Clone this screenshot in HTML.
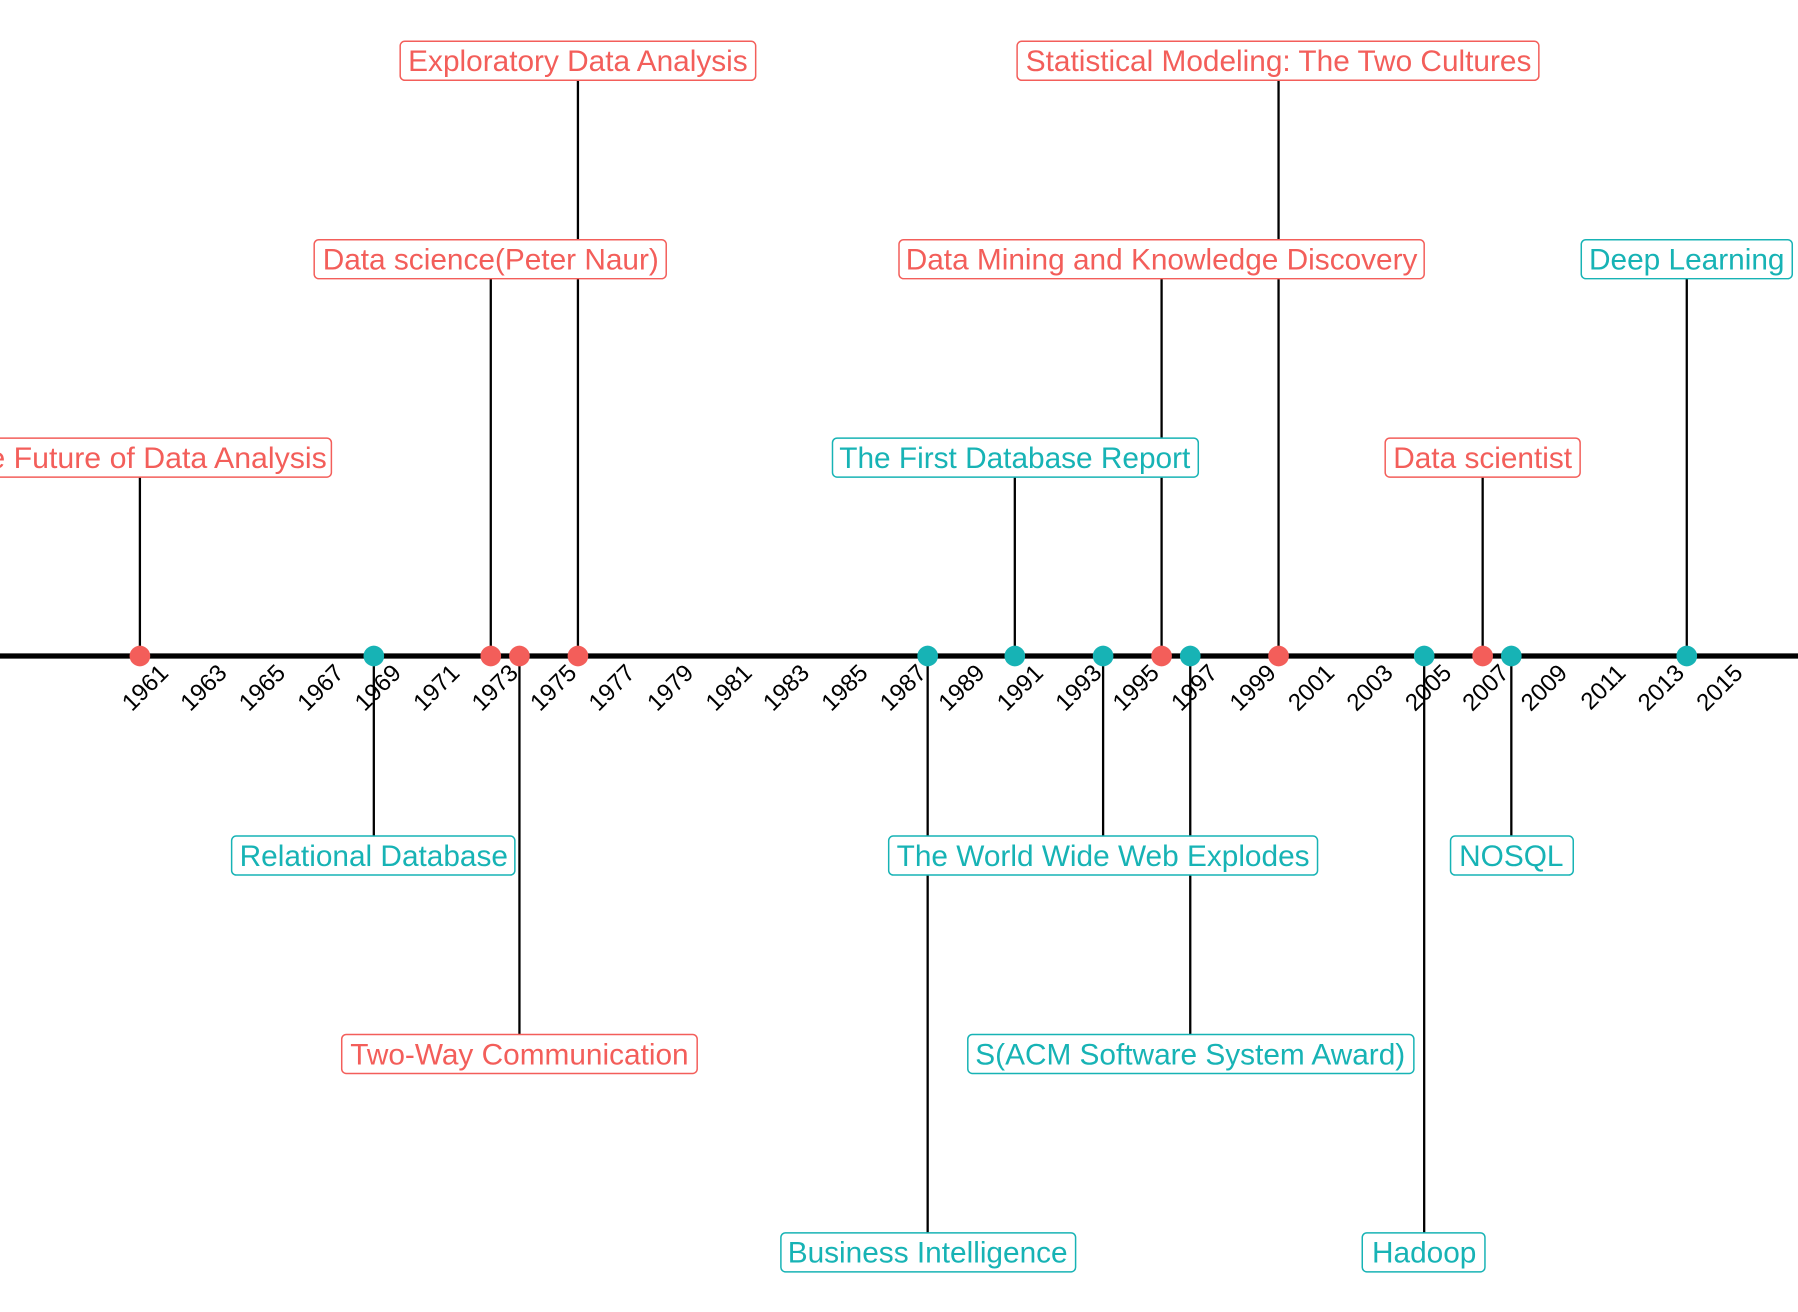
<!DOCTYPE html>
<html><head><meta charset="utf-8"><style>
html,body{margin:0;padding:0;background:#fff;}
svg{display:block;}
text{font-family:"Liberation Sans",sans-serif;}
</style></head><body>
<svg width="1798" height="1312" viewBox="0 0 1568 1144" preserveAspectRatio="none" xmlns="http://www.w3.org/2000/svg">
<g stroke="#000" stroke-width="2">
<line x1="122" y1="572" x2="122" y2="399"/>
<line x1="428" y1="572" x2="428" y2="226"/>
<line x1="453" y1="572" x2="453" y2="919"/>
<line x1="504" y1="572" x2="504" y2="53"/>
<line x1="1013" y1="572" x2="1013" y2="226"/>
<line x1="1115" y1="572" x2="1115" y2="53"/>
<line x1="1293" y1="572" x2="1293" y2="399"/>
<line x1="326" y1="572" x2="326" y2="746"/>
<line x1="809" y1="572" x2="809" y2="1092"/>
<line x1="885" y1="572" x2="885" y2="399"/>
<line x1="962" y1="572" x2="962" y2="746"/>
<line x1="1038" y1="572" x2="1038" y2="919"/>
<line x1="1242" y1="572" x2="1242" y2="1092"/>
<line x1="1318" y1="572" x2="1318" y2="746"/>
<line x1="1471" y1="572" x2="1471" y2="226"/>
</g>
<line x1="0" y1="572" x2="1568" y2="572" stroke="#000" stroke-width="4.5"/>
<g font-size="21" fill="#000" text-anchor="end">
<text transform="translate(148,588) rotate(-45)">1961</text>
<text transform="translate(199,588) rotate(-45)">1963</text>
<text transform="translate(250,588) rotate(-45)">1965</text>
<text transform="translate(301,588) rotate(-45)">1967</text>
<text transform="translate(351,588) rotate(-45)">1969</text>
<text transform="translate(402,588) rotate(-45)">1971</text>
<text transform="translate(453,588) rotate(-45)">1973</text>
<text transform="translate(504,588) rotate(-45)">1975</text>
<text transform="translate(555,588) rotate(-45)">1977</text>
<text transform="translate(606,588) rotate(-45)">1979</text>
<text transform="translate(657,588) rotate(-45)">1981</text>
<text transform="translate(707,588) rotate(-45)">1983</text>
<text transform="translate(758,588) rotate(-45)">1985</text>
<text transform="translate(809,588) rotate(-45)">1987</text>
<text transform="translate(860,588) rotate(-45)">1989</text>
<text transform="translate(911,588) rotate(-45)">1991</text>
<text transform="translate(962,588) rotate(-45)">1993</text>
<text transform="translate(1012,588) rotate(-45)">1995</text>
<text transform="translate(1063,588) rotate(-45)">1997</text>
<text transform="translate(1114,588) rotate(-45)">1999</text>
<text transform="translate(1165,588) rotate(-45)">2001</text>
<text transform="translate(1216,588) rotate(-45)">2003</text>
<text transform="translate(1267,588) rotate(-45)">2005</text>
<text transform="translate(1317,588) rotate(-45)">2007</text>
<text transform="translate(1368,588) rotate(-45)">2009</text>
<text transform="translate(1419,588) rotate(-45)">2011</text>
<text transform="translate(1470,588) rotate(-45)">2013</text>
<text transform="translate(1521,588) rotate(-45)">2015</text>
</g>
<g fill="#F35E5A">
<circle cx="122" cy="572" r="9"/><circle cx="428" cy="572" r="9"/><circle cx="453" cy="572" r="9"/><circle cx="504" cy="572" r="9"/><circle cx="1013" cy="572" r="9"/><circle cx="1115" cy="572" r="9"/><circle cx="1293" cy="572" r="9"/>
</g>
<g fill="#17B3B5">
<circle cx="326" cy="572" r="9"/><circle cx="809" cy="572" r="9"/><circle cx="885" cy="572" r="9"/><circle cx="962" cy="572" r="9"/><circle cx="1038" cy="572" r="9"/><circle cx="1242" cy="572" r="9"/><circle cx="1318" cy="572" r="9"/><circle cx="1471" cy="572" r="9"/>
</g>
<g font-size="26" text-anchor="middle">
<g fill="#fff" stroke="#F35E5A" stroke-width="1.3">
<rect x="-45" y="382" width="334" height="34" rx="4"/>
<rect x="274" y="209" width="307" height="34" rx="4"/>
<rect x="298" y="902" width="310" height="34" rx="4"/>
<rect x="349" y="36" width="310" height="34" rx="4"/>
<rect x="784" y="209" width="458" height="34" rx="4"/>
<rect x="887" y="36" width="455" height="34" rx="4"/>
<rect x="1208" y="382" width="170" height="34" rx="4"/>
</g>
<g fill="#fff" stroke="#17B3B5" stroke-width="1.3">
<rect x="202" y="729" width="247" height="34" rx="4"/>
<rect x="681" y="1075" width="257" height="34" rx="4"/>
<rect x="726" y="382" width="319" height="34" rx="4"/>
<rect x="775" y="729" width="374" height="34" rx="4"/>
<rect x="844" y="902" width="389" height="34" rx="4"/>
<rect x="1188" y="1075" width="107" height="34" rx="4"/>
<rect x="1265" y="729" width="107" height="34" rx="4"/>
<rect x="1379" y="209" width="184" height="34" rx="4"/>
</g>
<g fill="#F35E5A">
<text x="122" y="408" textLength="326" lengthAdjust="spacingAndGlyphs">The Future of Data Analysis</text>
<text x="428" y="235">Data science(Peter Naur)</text>
<text x="453" y="928">Two-Way Communication</text>
<text x="504" y="62">Exploratory Data Analysis</text>
<text x="1013" y="235">Data Mining and Knowledge Discovery</text>
<text x="1115" y="62">Statistical Modeling: The Two Cultures</text>
<text x="1293" y="408">Data scientist</text>
</g>
<g fill="#17B3B5">
<text x="326" y="755">Relational Database</text>
<text x="809" y="1101">Business Intelligence</text>
<text x="885" y="408">The First Database Report</text>
<text x="962" y="755">The World Wide Web Explodes</text>
<text x="1038" y="928">S(ACM Software System Award)</text>
<text x="1242" y="1101">Hadoop</text>
<text x="1318" y="755">NOSQL</text>
<text x="1471" y="235">Deep Learning</text>
</g>
</g>
</svg>
</body></html>
